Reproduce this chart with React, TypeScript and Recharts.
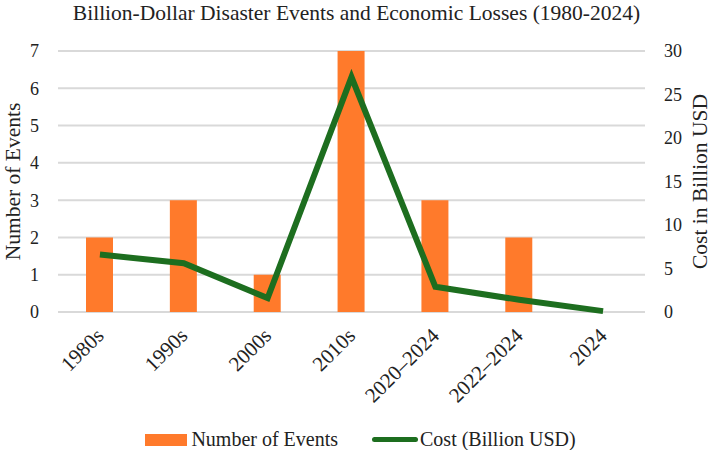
import { ComposedChart, Bar, Line, XAxis, YAxis, CartesianGrid, Legend } from 'recharts';

const periods = ['1980s', '1990s', '2000s', '2010s', '2020–2024', '2022–2024', '2024'];
const eventCounts = [2, 3, 1, 7, 3, 2, 0];
const costBillions = [6.6, 5.6, 1.6, 27, 2.9, 1.4, 0.1];
const eventTicks = [0, 1, 2, 3, 4, 5, 6, 7];
const costTicks = [0, 5, 10, 15, 20, 25, 30];

const ORANGE = '#FF7A2B';
const GREEN = '#1D6E1F';
const FONT = '"Liberation Serif", "Times New Roman", serif';

const data = periods.map((period, i) => ({
  period,
  events: eventCounts[i],
  cost: costBillions[i],
}));

const AngledTick = ({ x, y, payload }: any) => (
  <g transform={`translate(${x + 5},${y + 17}) rotate(-45)`}>
    <text x={0} y={0} textAnchor="end" fontFamily={FONT} fontSize={21} fill="#222">
      {payload.value}
    </text>
  </g>
);

const LeftTitle = ({ viewBox }: any) => {
  const cy = viewBox.y + viewBox.height / 2;
  return (
    <text
      x={13}
      y={cy}
      transform={`rotate(-90, 13, ${cy})`}
      textAnchor="middle"
      dominantBaseline="central"
      fontFamily={FONT}
      fontSize={21.5}
      fill="#222"
    >
      Number of Events
    </text>
  );
};

const RightTitle = ({ viewBox }: any) => {
  const cy = viewBox.y + viewBox.height / 2;
  return (
    <text
      x={700}
      y={cy}
      transform={`rotate(-90, 700, ${cy})`}
      textAnchor="middle"
      dominantBaseline="central"
      fontFamily={FONT}
      fontSize={21.5}
      fill="#222"
    >
      Cost in Billion USD
    </text>
  );
};

const LegendBox = () => (
  <div
    style={{
      display: 'flex',
      justifyContent: 'center',
      alignItems: 'center',
      fontFamily: FONT,
      fontSize: 20,
      color: '#222',
      paddingLeft: 8,
      paddingTop: 8,
    }}
  >
    <span style={{ display: 'inline-block', width: 42, height: 12, background: ORANGE, marginRight: 4 }} />
    <span style={{ marginRight: 34 }}>Number of Events</span>
    <span style={{ display: 'inline-block', width: 46, height: 5, background: GREEN, borderRadius: 3, marginRight: 2 }} />
    <span>Cost (Billion USD)</span>
  </div>
);

export default function App() {
  return (
    <div style={{ position: 'relative', width: 713, height: 450, background: '#fff' }}>
      <style>{'body{margin:0}'}</style>
      <div
        style={{
          position: 'absolute',
          top: 0,
          left: 0,
          width: 713,
          textAlign: 'center',
          fontFamily: FONT,
          fontSize: 21.5,
          color: '#222',
          lineHeight: '26px',
          zIndex: 1,
        }}
      >
        Billion-Dollar Disaster Events and Economic Losses (1980-2024)
      </div>
      <ComposedChart
        width={713}
        height={450}
        data={data}
        margin={{ top: 51, right: 0, bottom: 0, left: 0 }}
        barCategoryGap="34%"
      >
        <CartesianGrid yAxisId="left" vertical={false} stroke="#d9d9d9" strokeWidth={2} />
        <XAxis
          dataKey="period"
          axisLine={false}
          tickLine={false}
          height={108}
          interval={0}
          tick={<AngledTick />}
        />
        <YAxis
          yAxisId="left"
          domain={[0, 7]}
          ticks={eventTicks}
          width={58}
          axisLine={false}
          tickLine={false}
          tickMargin={13}
          tick={{ fontFamily: FONT, fontSize: 18, fill: '#222' }}
          label={<LeftTitle />}
        />
        <YAxis
          yAxisId="right"
          orientation="right"
          domain={[0, 30]}
          ticks={costTicks}
          width={68}
          axisLine={false}
          tickLine={false}
          tickMargin={13}
          tick={{ fontFamily: FONT, fontSize: 18, fill: '#222' }}
          label={<RightTitle />}
        />
        <Legend verticalAlign="bottom" height={30} content={<LegendBox />} />
        <Bar yAxisId="left" dataKey="events" name="Number of Events" fill={ORANGE} barSize={27} isAnimationActive={false} />
        <Line
          yAxisId="right"
          dataKey="cost"
          name="Cost (Billion USD)"
          type="linear"
          stroke={GREEN}
          strokeWidth={6}
          dot={false}
          activeDot={false}
          isAnimationActive={false}
        />
      </ComposedChart>
    </div>
  );
}
